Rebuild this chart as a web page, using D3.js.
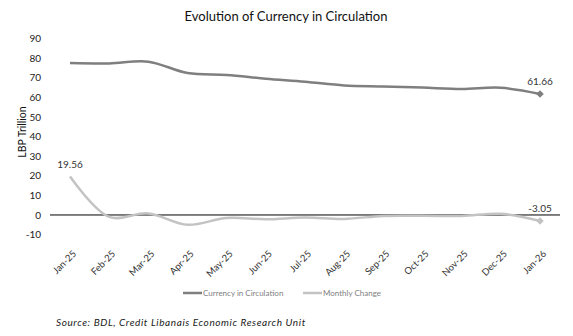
<!DOCTYPE html>
<html>
<head>
<meta charset="utf-8">
<script src="https://cdn.jsdelivr.net/npm/d3@7/dist/d3.min.js"></script>
<style>
  html, body { margin: 0; padding: 0; background: #fff; }
  svg { display: block; font-family: Lato, "Open Sans", sans-serif; }
</style>
</head>
<body>
<svg id="chart" width="573" height="336"></svg>
<script>
// Monthly data, LBP trillion
const months = ["Jan-25","Feb-25","Mar-25","Apr-25","May-25","Jun-25","Jul-25",
                "Aug-25","Sep-25","Oct-25","Nov-25","Dec-25","Jan-26"];
const currencyInCirculation = [77.4, 77.2, 78.1, 72.3, 71.3, 69.4, 67.9, 66.0, 65.5, 64.9, 64.2, 64.8, 61.66];
const monthlyChange = [19.56, -1.0, 0.8, -5.0, -1.5, -2.2, -1.3, -2.0, -0.5, -0.4, -0.5, 0.6, -3.05];
const yTicks = [-10, 0, 10, 20, 30, 40, 50, 60, 70, 80, 90];

const seriesList = [
  { name: "Currency in Circulation", values: currencyInCirculation, color: "#7f7f7f" },
  { name: "Monthly Change", values: monthlyChange, color: "#c3c3c3" }
];

// plain hyphen for negatives
const fmt2 = v => v.toFixed(2);
const fmtInt = v => String(v);

const svg = d3.select("#chart");

const x = d3.scalePoint().domain(months).range([70, 540]);
const y = d3.scaleLinear().domain([-10, 90]).range([234.6, 38.3]);

// Title
svg.append("text")
  .attr("x", 286).attr("y", 21)
  .attr("text-anchor", "middle")
  .attr("font-size", 13).attr("fill", "#111")
  .text("Evolution of Currency in Circulation");

// Y axis (labels only)
const yAxis = d3.axisLeft(y).tickValues(yTicks).tickSize(0).tickPadding(0)
  .tickFormat(fmtInt);
const gy = svg.append("g").attr("transform", "translate(41,0)").call(yAxis);
gy.select(".domain").remove();
gy.selectAll("text").attr("font-size", 10).attr("fill", "#222").attr("font-family", "Lato, sans-serif");

// Y axis title
svg.append("text")
  .attr("transform", "translate(26,132) rotate(-90)")
  .attr("text-anchor", "middle")
  .attr("font-size", 10.5).attr("fill", "#111")
  .text("LBP Trillion");

// Zero line
svg.append("line")
  .attr("x1", 50).attr("x2", 560)
  .attr("y1", y(0)).attr("y2", y(0))
  .attr("stroke", "#000").attr("stroke-width", 1);

// X axis labels, rotated, below the plot
const xAxis = d3.axisBottom(x).tickSize(0).tickPadding(0);
const gx = svg.append("g").attr("transform", "translate(0,252)").call(xAxis);
gx.select(".domain").remove();
gx.selectAll("text")
  .attr("font-size", 9.5).attr("fill", "#333").attr("font-family", "Lato, sans-serif")
  .attr("text-anchor", "end")
  .attr("dy", "0.35em")
  .attr("transform", "translate(4,0) rotate(-45)")
  .attr("x", 0).attr("y", 0);

// Lines
const line = d3.line()
  .x((d, i) => x(months[i]))
  .y(d => y(d))
  .curve(d3.curveCatmullRom.alpha(0.5));

seriesList.forEach(s => {
  svg.append("path")
    .datum(s.values)
    .attr("fill", "none")
    .attr("stroke", s.color)
    .attr("stroke-width", 2.5)
    .attr("stroke-linejoin", "round")
    .attr("d", line);

  const last = s.values.length - 1;
  svg.append("path")
    .attr("d", d3.symbol(d3.symbolDiamond2, 36)())
    .attr("transform", `translate(${x(months[last])},${y(s.values[last])})`)
    .attr("fill", s.color);
});

// Data labels
const labels = [
  { i: 0, v: monthlyChange[0] },
  { i: 12, v: currencyInCirculation[12] },
  { i: 12, v: monthlyChange[12] }
];
labels.forEach(l => {
  svg.append("text")
    .attr("x", x(months[l.i])).attr("y", y(l.v) - 9)
    .attr("text-anchor", "middle")
    .attr("font-size", 10).attr("fill", "#333")
    .text(fmt2(l.v));
});

// Legend
const legendPos = [183, 303];
seriesList.forEach((s, k) => {
  const lx = legendPos[k];
  svg.append("line")
    .attr("x1", lx).attr("x2", lx + 19)
    .attr("y1", 293).attr("y2", 293)
    .attr("stroke", s.color).attr("stroke-width", 2.5);
  svg.append("text")
    .attr("x", lx + 20).attr("y", 296)
    .attr("font-size", 8).attr("fill", "#808080")
    .text(s.name);
});

// Source note
svg.append("text")
  .attr("x", 56).attr("y", 326)
  .attr("font-size", 10).attr("font-style", "italic")
  .attr("letter-spacing", 0.6)
  .attr("fill", "#1a1a1a")
  .text("Source: BDL, Credit Libanais Economic Research Unit");
</script>
</body>
</html>
